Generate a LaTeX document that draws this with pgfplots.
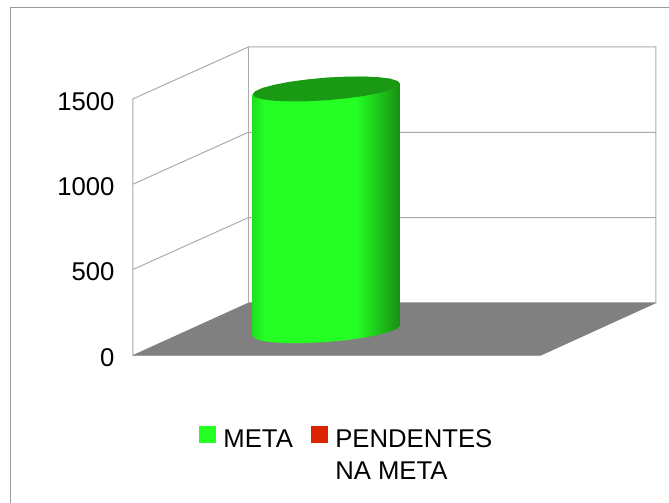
\documentclass[border=0pt]{standalone}
\usepackage{pgfplots}
\pgfplotsset{compat=1.18}
\usepackage{fontspec}
\setmainfont{Liberation Sans}
\newcommand{\fs}{\fontsize{25.7}{32.5}\selectfont}
\definecolor{metagreen}{HTML}{24FF24}
\definecolor{capgreen}{HTML}{1A9A14}
\definecolor{pendred}{HTML}{DC2300}
\definecolor{wall}{HTML}{ABABAB}
\definecolor{floorgrey}{HTML}{808080}
\definecolor{frameg}{HTML}{9A9A9A}
\pgfdeclarehorizontalshading{cylgreen}{100bp}{color(0bp)=(metagreen!88!black); color(25bp)=(metagreen!88!black); color(29bp)=(metagreen); color(60bp)=(metagreen); color(75bp)=(capgreen!92!black); color(100bp)=(capgreen!92!black)}
\begin{document}
\begin{tikzpicture}
\begin{axis}[
  scale only axis, width=669pt, height=503pt,
  xmin=0, xmax=669, ymin=-867.19, ymax=2080.08,
  axis line style={draw=none},
  xtick=\empty,
  ytick={0,500,1000,1500},
  major tick length=0pt,
  /pgf/number format/assume math mode=true,
  /pgf/number format/1000 sep={},
  yticklabel style={font=\fs, anchor=east, xshift=118pt, yshift=-2.5pt},
  legend columns=2,
  legend style={at={(axis cs:199,-419)}, anchor=north west, draw=none, fill=none, font=\fs,
    /tikz/every even column/.append style={column sep=16pt}, inner sep=0pt, outer sep=0pt},
  legend cell align=left,
]
% frame
\addplot[frameg, line width=1pt, forget plot] coordinates {(10.5,-867.19) (10.5,2036.1) (669,2036.1)};
% floor
\addplot[draw=floorgrey, fill=floorgrey, forget plot] coordinates {(132.7,-3) (248.3,304.7) (656,304.7) (540.7,-3)} -- cycle;
% side wall gridlines
\addplot[wall, line width=1pt, forget plot] coordinates {(132.7,0) (132.7,1500) (248.3,1804.7) (656,1804.7) (656,304.7)};
\addplot[wall, line width=1pt, forget plot] coordinates {(248.3,304.7) (248.3,1804.7)};
\addplot[wall, line width=1pt, forget plot] coordinates {(132.7,1000) (248.3,1304.7) (656,1304.7)};
\addplot[wall, line width=1pt, forget plot] coordinates {(132.7,500) (248.3,804.7) (656,804.7)};
\addplot[wall, line width=1pt, forget plot] coordinates {(248.3,304.7) (656,304.7)};
% cylinder body
\addplot[draw=none, shading=cylgreen, forget plot] coordinates {
 (400.0,1589.95) (400.0,173.15) (397.49,154.95) (390.15,135.85) (378.43,117.16) (363.15,100.2)
 (345.41,85.97) (326.35,75.6) (307.29,69.75) (289.55,68.8) (274.27,72.82) (262.55,81.55)
 (255.21,94.39) (252.7,110.45) (252.7,1527.25) (262.55,1564.55) (289.55,1600.2) (326.35,1624.8) (363.15,1631.6) (390.15,1618.85)
} -- cycle;
% cylinder top
\addplot[draw=none, fill=capgreen, forget plot] coordinates {
 (400.0,1589.95) (397.49,1606.01) (390.15,1618.85) (378.43,1627.58) (363.15,1631.6) (345.41,1630.65)
 (326.35,1624.8) (307.29,1614.43) (289.55,1600.2) (274.27,1583.24) (262.55,1564.55) (255.21,1545.45)
 (252.7,1527.25) (255.21,1511.19) (262.55,1498.35) (274.27,1489.62) (289.55,1485.6) (307.29,1486.55)
 (326.35,1492.4) (345.41,1502.77) (363.15,1517.0) (378.43,1533.96) (390.15,1552.65) (397.49,1571.75)
} -- cycle;
% legend
\addlegendimage{legend image code/.code={\fill[metagreen] (0pt,-3.5pt) rectangle (16pt,12.5pt);}}
\addlegendentry{\hspace{6pt}META}
\addlegendimage{legend image code/.code={\fill[pendred] (0pt,-3.5pt) rectangle (16pt,12.5pt);}}
\addlegendentry{\hspace{6pt}\parbox[t]{170pt}{PENDENTES\\NA META}}
\end{axis}
\end{tikzpicture}
\end{document}
